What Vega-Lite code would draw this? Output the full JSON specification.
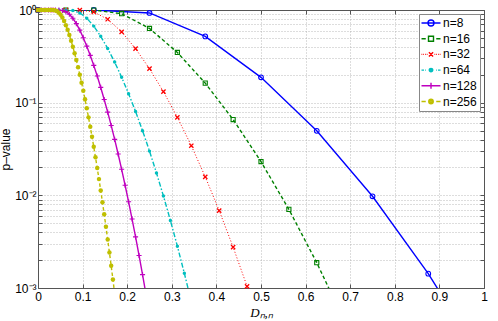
{
  "$schema": "https://vega.github.io/schema/vega-lite/v6.json",
  "width": 446,
  "height": 278,
  "autosize": {"type": "none"},
  "padding": {"left": 38, "top": 10, "right": 14, "bottom": 33},
  "background": "white",
  "config": {
    "view": {"stroke": null},
    "font": "Liberation Sans",
    "axis": {"labelFont": "Liberation Sans", "labelColor": "black", "titleColor": "black", "domainColor": "#555", "tickColor": "#555", "domainWidth": 1, "tickWidth": 1}
  },
  "data": {
    "values": [
      {"n": "n=8", "d": 0, "p": 1}, {"n": "n=8", "d": 0.125, "p": 1}, {"n": "n=8", "d": 0.25, "p": 0.92895}, {"n": "n=8", "d": 0.375, "p": 0.51895}, {"n": "n=8", "d": 0.5, "p": 0.18768}, {"n": "n=8", "d": 0.625, "p": 0.049655}, {"n": "n=8", "d": 0.75, "p": 0.0097664}, {"n": "n=8", "d": 0.875, "p": 0.0014292}, {"n": "n=8", "d": 1, "p": 0.00015562},
      {"n": "n=16", "d": 0, "p": 1}, {"n": "n=16", "d": 0.0625, "p": 1}, {"n": "n=16", "d": 0.125, "p": 0.99903}, {"n": "n=16", "d": 0.1875, "p": 0.91229}, {"n": "n=16", "d": 0.25, "p": 0.63251}, {"n": "n=16", "d": 0.3125, "p": 0.34812}, {"n": "n=16", "d": 0.375, "p": 0.16247}, {"n": "n=16", "d": 0.4375, "p": 0.065668}, {"n": "n=16", "d": 0.5, "p": 0.023124}, {"n": "n=16", "d": 0.5625, "p": 0.0070544}, {"n": "n=16", "d": 0.625, "p": 0.0018757}, {"n": "n=16", "d": 0.6875, "p": 0.0004347},
      {"n": "n=32", "d": 0, "p": 1}, {"n": "n=32", "d": 0.03125, "p": 1}, {"n": "n=32", "d": 0.0625, "p": 1}, {"n": "n=32", "d": 0.09375, "p": 0.99816}, {"n": "n=32", "d": 0.125, "p": 0.95092}, {"n": "n=32", "d": 0.15625, "p": 0.79503}, {"n": "n=32", "d": 0.1875, "p": 0.58089}, {"n": "n=32", "d": 0.21875, "p": 0.38278}, {"n": "n=32", "d": 0.25, "p": 0.23255}, {"n": "n=32", "d": 0.28125, "p": 0.13153}, {"n": "n=32", "d": 0.3125, "p": 0.069487}, {"n": "n=32", "d": 0.34375, "p": 0.034318}, {"n": "n=32", "d": 0.375, "p": 0.015846}, {"n": "n=32", "d": 0.40625, "p": 0.0068414}, {"n": "n=32", "d": 0.4375, "p": 0.0027616}, {"n": "n=32", "d": 0.46875, "p": 0.0010424}, {"n": "n=32", "d": 0.5, "p": 0.0003679},
      {"n": "n=64", "d": 0, "p": 1}, {"n": "n=64", "d": 0.015625, "p": 1}, {"n": "n=64", "d": 0.03125, "p": 1}, {"n": "n=64", "d": 0.046875, "p": 1}, {"n": "n=64", "d": 0.0625, "p": 0.99943}, {"n": "n=64", "d": 0.078125, "p": 0.9865}, {"n": "n=64", "d": 0.09375, "p": 0.92929}, {"n": "n=64", "d": 0.109375, "p": 0.81637}, {"n": "n=64", "d": 0.125, "p": 0.67009}, {"n": "n=64", "d": 0.140625, "p": 0.51977}, {"n": "n=64", "d": 0.15625, "p": 0.38495}, {"n": "n=64", "d": 0.171875, "p": 0.27405}, {"n": "n=64", "d": 0.1875, "p": 0.18825}, {"n": "n=64", "d": 0.203125, "p": 0.12499}, {"n": "n=64", "d": 0.21875, "p": 0.080277}, {"n": "n=64", "d": 0.234375, "p": 0.04989}, {"n": "n=64", "d": 0.25, "p": 0.030002}, {"n": "n=64", "d": 0.265625, "p": 0.01746}, {"n": "n=64", "d": 0.28125, "p": 0.009833}, {"n": "n=64", "d": 0.296875, "p": 0.0053588}, {"n": "n=64", "d": 0.3125, "p": 0.0028262}, {"n": "n=64", "d": 0.328125, "p": 0.0014425}, {"n": "n=64", "d": 0.34375, "p": 0.00071244},
      {"n": "n=128", "d": 0, "p": 1}, {"n": "n=128", "d": 0.0078125, "p": 1}, {"n": "n=128", "d": 0.015625, "p": 1}, {"n": "n=128", "d": 0.0234375, "p": 1}, {"n": "n=128", "d": 0.03125, "p": 1}, {"n": "n=128", "d": 0.0390625, "p": 1}, {"n": "n=128", "d": 0.046875, "p": 0.99865}, {"n": "n=128", "d": 0.0546875, "p": 0.98896}, {"n": "n=128", "d": 0.0625, "p": 0.95835}, {"n": "n=128", "d": 0.0703125, "p": 0.89916}, {"n": "n=128", "d": 0.078125, "p": 0.81417}, {"n": "n=128", "d": 0.0859375, "p": 0.71291}, {"n": "n=128", "d": 0.09375, "p": 0.6061}, {"n": "n=128", "d": 0.1015625, "p": 0.50234}, {"n": "n=128", "d": 0.109375, "p": 0.40721}, {"n": "n=128", "d": 0.1171875, "p": 0.3236}, {"n": "n=128", "d": 0.125, "p": 0.25251}, {"n": "n=128", "d": 0.1328125, "p": 0.19365}, {"n": "n=128", "d": 0.140625, "p": 0.14605}, {"n": "n=128", "d": 0.1484375, "p": 0.10835}, {"n": "n=128", "d": 0.15625, "p": 0.079081}, {"n": "n=128", "d": 0.1640625, "p": 0.056794}, {"n": "n=128", "d": 0.171875, "p": 0.040132}, {"n": "n=128", "d": 0.1796875, "p": 0.027904}, {"n": "n=128", "d": 0.1875, "p": 0.019091}, {"n": "n=128", "d": 0.1953125, "p": 0.012851}, {"n": "n=128", "d": 0.203125, "p": 0.008513}, {"n": "n=128", "d": 0.2109375, "p": 0.0055486}, {"n": "n=128", "d": 0.21875, "p": 0.0035586}, {"n": "n=128", "d": 0.2265625, "p": 0.0022458}, {"n": "n=128", "d": 0.234375, "p": 0.0013946}, {"n": "n=128", "d": 0.2421875, "p": 0.0008521},
      {"n": "n=256", "d": 0, "p": 1}, {"n": "n=256", "d": 0.00390625, "p": 1}, {"n": "n=256", "d": 0.0078125, "p": 1}, {"n": "n=256", "d": 0.01171875, "p": 1}, {"n": "n=256", "d": 0.015625, "p": 1}, {"n": "n=256", "d": 0.01953125, "p": 1}, {"n": "n=256", "d": 0.0234375, "p": 1}, {"n": "n=256", "d": 0.02734375, "p": 1}, {"n": "n=256", "d": 0.03125, "p": 0.99955}, {"n": "n=256", "d": 0.03515625, "p": 0.99695}, {"n": "n=256", "d": 0.0390625, "p": 0.98832}, {"n": "n=256", "d": 0.04296875, "p": 0.969}, {"n": "n=256", "d": 0.046875, "p": 0.93581}, {"n": "n=256", "d": 0.05078125, "p": 0.88826}, {"n": "n=256", "d": 0.0546875, "p": 0.82838}, {"n": "n=256", "d": 0.05859375, "p": 0.75959}, {"n": "n=256", "d": 0.0625, "p": 0.68578}, {"n": "n=256", "d": 0.06640625, "p": 0.6105}, {"n": "n=256", "d": 0.0703125, "p": 0.53665}, {"n": "n=256", "d": 0.07421875, "p": 0.46636}, {"n": "n=256", "d": 0.078125, "p": 0.40104}, {"n": "n=256", "d": 0.08203125, "p": 0.34154}, {"n": "n=256", "d": 0.0859375, "p": 0.2882}, {"n": "n=256", "d": 0.08984375, "p": 0.24107}, {"n": "n=256", "d": 0.09375, "p": 0.19994}, {"n": "n=256", "d": 0.09765625, "p": 0.16445}, {"n": "n=256", "d": 0.1015625, "p": 0.13417}, {"n": "n=256", "d": 0.10546875, "p": 0.10857}, {"n": "n=256", "d": 0.109375, "p": 0.087155}, {"n": "n=256", "d": 0.11328125, "p": 0.069405}, {"n": "n=256", "d": 0.1171875, "p": 0.054828}, {"n": "n=256", "d": 0.12109375, "p": 0.042966}, {"n": "n=256", "d": 0.125, "p": 0.033404}, {"n": "n=256", "d": 0.12890625, "p": 0.025762}, {"n": "n=256", "d": 0.1328125, "p": 0.01971}, {"n": "n=256", "d": 0.13671875, "p": 0.01496}, {"n": "n=256", "d": 0.140625, "p": 0.011264}, {"n": "n=256", "d": 0.14453125, "p": 0.0084142}, {"n": "n=256", "d": 0.1484375, "p": 0.0062352}, {"n": "n=256", "d": 0.15234375, "p": 0.0045836}, {"n": "n=256", "d": 0.15625, "p": 0.0033428}, {"n": "n=256", "d": 0.16015625, "p": 0.0024182}, {"n": "n=256", "d": 0.1640625, "p": 0.0017356}, {"n": "n=256", "d": 0.16796875, "p": 0.0012357}, {"n": "n=256", "d": 0.171875, "p": 0.00087284}
    ]
  },
  "encoding": {
    "x": {"field": "d", "type": "quantitative", "scale": {"domain": [0, 1], "nice": false, "zero": false}, "axis": null},
    "y": {"field": "p", "type": "quantitative", "scale": {"type": "log", "domain": [0.001, 1], "nice": false}, "axis": null}
  },
  "layer": [
    {
      "transform": [{"filter": "datum.n == 'n=8'"}],
      "mark": {"type": "line", "clip": true, "color": "#0000FF", "strokeWidth": 1.4},
      "encoding": {
        "x": {"field": "d", "type": "quantitative", "scale": {"domain": [0, 1], "nice": false, "zero": false},
          "axis": {"orient": "bottom", "values": [0, 0.1, 0.2, 0.3, 0.4, 0.5, 0.6, 0.7, 0.8, 0.9, 1], "format": "~g", "labelFlush": false, "labelOverlap": false,
            "grid": true, "gridDash": [1, 2], "gridColor": "#a8a8a8", "gridWidth": 0.8,
            "tickSize": -4, "labelPadding": 7.5, "labelFontSize": 12,
            "title": "Dₙ,ₙ", "titleFont": "Liberation Serif", "titleFontStyle": "italic", "titleFontWeight": "normal", "titleFontSize": 13, "titlePadding": 4}},
        "y": {"field": "p", "type": "quantitative", "scale": {"type": "log", "domain": [0.001, 1], "nice": false},
          "axis": {"orient": "left", "values": [0.001, 0.002, 0.003, 0.004, 0.005, 0.006, 0.007, 0.008, 0.009, 0.01, 0.02, 0.03, 0.04, 0.05, 0.06, 0.07, 0.08, 0.09, 0.1, 0.2, 0.3, 0.4, 0.5, 0.6, 0.7, 0.8, 0.9, 1],
            "labelExpr": "datum.value == 1 ? '10⁰' : datum.value == 0.1 ? '10⁻¹' : datum.value == 0.01 ? '10⁻²' : datum.value == 0.001 ? '10⁻³' : ''",
            "labelFlush": false, "labelOverlap": false,
            "grid": true, "gridDash": [1, 2], "gridColor": "#a8a8a8", "gridWidth": 0.8,
            "tickSize": -4, "labelPadding": 6, "labelFontSize": 12,
            "title": "p–value", "titleFontWeight": "normal", "titleFontSize": 12, "titlePadding": 2}}
      }
    },
    {
      "transform": [{"filter": "datum.n == 'n=8' && datum.p >= 0.001"}],
      "mark": {"type": "point", "shape": "circle", "filled": false, "clip": false, "color": "#0000FF", "size": 22, "strokeWidth": 1.1, "opacity": 1},
      "encoding": {
        "x": {"field": "d", "type": "quantitative", "scale": {"domain": [0, 1], "nice": false, "zero": false},
          "axis": {"orient": "top", "values": [0, 0.1, 0.2, 0.3, 0.4, 0.5, 0.6, 0.7, 0.8, 0.9, 1], "labels": false, "grid": false, "tickSize": -4, "title": null}},
        "y": {"field": "p", "type": "quantitative", "scale": {"type": "log", "domain": [0.001, 1], "nice": false},
          "axis": {"orient": "right", "values": [0.001, 0.002, 0.003, 0.004, 0.005, 0.006, 0.007, 0.008, 0.009, 0.01, 0.02, 0.03, 0.04, 0.05, 0.06, 0.07, 0.08, 0.09, 0.1, 0.2, 0.3, 0.4, 0.5, 0.6, 0.7, 0.8, 0.9, 1], "labels": false, "grid": false, "tickSize": -4, "title": null}}
      }
    },
    {
      "transform": [{"filter": "datum.n == 'n=16'"}],
      "mark": {"type": "line", "clip": true, "color": "#008000", "strokeWidth": 1.4, "strokeDash": [3.5, 2.5]},
      "encoding": {}
    },
    {
      "transform": [{"filter": "datum.n == 'n=16' && datum.p >= 0.001"}],
      "mark": {"type": "point", "shape": "square", "filled": false, "clip": false, "color": "#008000", "size": 17, "strokeWidth": 1.1, "opacity": 1},
      "encoding": {}
    },
    {
      "transform": [{"filter": "datum.n == 'n=32'"}],
      "mark": {"type": "line", "clip": true, "color": "#FF0000", "strokeWidth": 1, "strokeDash": [1, 2]},
      "encoding": {}
    },
    {
      "transform": [{"filter": "datum.n == 'n=32' && datum.p >= 0.001"}],
      "mark": {"type": "point", "shape": "M-1,-1L1,1M-1,1L1,-1", "filled": false, "clip": false, "color": "#FF0000", "size": 18, "strokeWidth": 1.3, "opacity": 1},
      "encoding": {}
    },
    {
      "transform": [{"filter": "datum.n == 'n=64'"}],
      "mark": {"type": "line", "clip": true, "color": "#00BFBF", "strokeWidth": 1.4, "strokeDash": [5, 2, 1.5, 2]},
      "encoding": {}
    },
    {
      "transform": [{"filter": "datum.n == 'n=64' && datum.p >= 0.001"}],
      "mark": {"type": "point", "shape": "circle", "filled": true, "clip": false, "color": "#00BFBF", "size": 12, "opacity": 1},
      "encoding": {}
    },
    {
      "transform": [{"filter": "datum.n == 'n=128'"}],
      "mark": {"type": "line", "clip": true, "color": "#BF00BF", "strokeWidth": 1.4},
      "encoding": {}
    },
    {
      "transform": [{"filter": "datum.n == 'n=128' && datum.p >= 0.001"}],
      "mark": {"type": "point", "shape": "M-1,0H1M0,-1V1", "filled": false, "clip": false, "color": "#BF00BF", "size": 26, "strokeWidth": 1.1, "opacity": 1},
      "encoding": {}
    },
    {
      "transform": [{"filter": "datum.n == 'n=256'"}],
      "mark": {"type": "line", "clip": true, "color": "#BFBF00", "strokeWidth": 1.4, "strokeDash": [3.5, 2.5]},
      "encoding": {}
    },
    {
      "transform": [{"filter": "datum.n == 'n=256' && datum.p >= 0.001"}],
      "mark": {"type": "point", "shape": "circle", "filled": true, "clip": false, "color": "#BFBF00", "size": 20, "opacity": 1},
      "encoding": {}
    },
    {
      "transform": [{"filter": "false"}],
      "mark": {"type": "point", "filled": false, "opacity": 1},
      "encoding": {
        "color": {"field": "n", "type": "nominal",
          "scale": {"domain": ["n=8", "n=16", "n=32", "n=64", "n=128", "n=256"], "range": ["#0000FF", "#008000", "#FF0000", "#00BFBF", "#BF00BF", "#BFBF00"]},
          "legend": {"title": null, "orient": "top-right", "offset": 4, "fillColor": "white", "strokeColor": "#888", "padding": 3, "cornerRadius": 0,
            "labelFont": "Liberation Sans", "labelFontSize": 12, "labelColor": "black", "symbolSize": 100, "symbolStrokeWidth": 1.4, "symbolOffset": 3, "labelOffset": 6, "rowPadding": 3.7}},
        "shape": {"field": "n", "type": "nominal",
          "scale": {"domain": ["n=8", "n=16", "n=32", "n=64", "n=128", "n=256"],
            "range": [
              "M-1.9,0H1.9M0.6,0A0.6,0.6,0,1,1,-0.6,0A0.6,0.6,0,1,1,0.6,0Z",
              "M-1.9,0H-1.05M1.05,0H1.9M-0.5,-0.5H0.5V0.5H-0.5Z",
              "M-1.9,0H-1.75M-1.55,0H-1.4M-1.2,0H-1.05M-0.85,0H-0.7M0.7,0H0.85M1.05,0H1.2M1.4,0H1.55M1.75,0H1.9M-0.42,-0.42L0.42,0.42M-0.42,0.42L0.42,-0.42",
              "M-1.9,0H-1.4M-1.15,0H-1M1,0H1.15M1.4,0H1.9M0.35,0A0.35,0.35,0,1,1,-0.35,0A0.35,0.35,0,1,1,0.35,0ZM0.1,0A0.1,0.1,0,1,1,-0.1,0A0.1,0.1,0,1,1,0.1,0Z",
              "M-1.9,0H1.9M0,-0.6V0.6",
              "M-1.9,0H-1.05M1.05,0H1.9M0.45,0A0.45,0.45,0,1,1,-0.45,0A0.45,0.45,0,1,1,0.45,0ZM0.18,0A0.18,0.18,0,1,1,-0.18,0A0.18,0.18,0,1,1,0.18,0Z"
            ]},
          "legend": {"title": null, "orient": "top-right", "offset": 4, "fillColor": "white", "strokeColor": "#888", "padding": 3, "cornerRadius": 0,
            "labelFont": "Liberation Sans", "labelFontSize": 12, "labelColor": "black", "symbolSize": 100, "symbolStrokeWidth": 1.4, "symbolOffset": 3, "labelOffset": 6, "rowPadding": 3.7}}
      }
    }
  ],
  "resolve": {"axis": {"x": "independent", "y": "independent"}}
}
